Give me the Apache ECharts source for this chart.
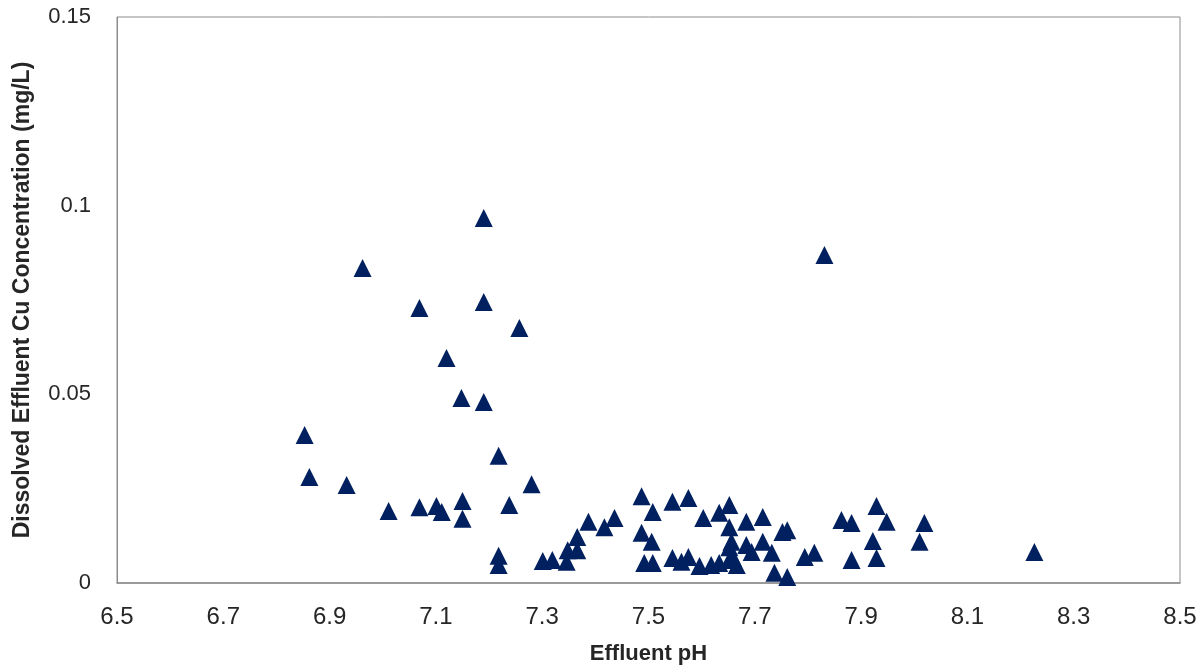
<!DOCTYPE html>
<html>
<head>
<meta charset="utf-8">
<script src="https://cdn.jsdelivr.net/npm/echarts@6/dist/echarts.min.js"></script>
<style>
html,body{margin:0;padding:0;background:#fff;}
#chart{width:1202px;height:672px;}
</style>
</head>
<body>
<div id="chart"></div>
<script>
const xAxisTitle = 'Effluent pH';
const yAxisTitle = 'Dissolved Effluent Cu Concentration (mg/L)';
const phValues = [6.853,6.862,6.932,6.962,7.011,7.069,7.069,7.101,7.111,7.120,7.148,7.150,7.150,7.190,7.190,7.190,7.218,7.218,7.218,7.257,7.238,7.280,7.301,7.319,7.346,7.348,7.366,7.366,7.387,7.417,7.436,7.487,7.487,7.508,7.506,7.492,7.508,7.545,7.575,7.545,7.562,7.575,7.596,7.603,7.618,7.633,7.633,7.652,7.652,7.652,7.652,7.684,7.715,7.752,7.761,7.656,7.658,7.666,7.684,7.694,7.715,7.732,7.737,7.761,7.794,7.812,7.831,7.863,7.882,7.929,7.948,7.922,7.882,7.929,8.019,8.010,8.226];
const cuValues = [0.0392,0.0281,0.0260,0.0835,0.0191,0.0729,0.0201,0.0204,0.0188,0.0596,0.0490,0.0217,0.0170,0.0967,0.0745,0.0480,0.0337,0.0072,0.0048,0.0676,0.0207,0.0262,0.0058,0.0061,0.0056,0.0087,0.0087,0.0122,0.0162,0.0148,0.0172,0.0230,0.0133,0.0188,0.0109,0.0053,0.0053,0.0215,0.0225,0.0066,0.0056,0.0069,0.0045,0.0172,0.0048,0.0186,0.0053,0.0207,0.0148,0.0095,0.0061,0.0162,0.0175,0.0135,0.0140,0.0109,0.0069,0.0048,0.0101,0.0082,0.0109,0.0080,0.0027,0.0016,0.0069,0.0080,0.0869,0.0167,0.0159,0.0204,0.0162,0.0111,0.0061,0.0066,0.0159,0.0109,0.0082];

const points = phValues.map((x, i) => [x, cuValues[i]]);

const chart = echarts.init(document.getElementById('chart'), null, {renderer: 'canvas'});
chart.setOption({
  animation: false,
  backgroundColor: '#ffffff',
  grid: {
    left: 117, right: 22, top: 17, bottom: 89,
    show: true, borderColor: '#8c8c8c', borderWidth: 1, backgroundColor: 'transparent'
  },
  xAxis: {
    type: 'value', min: 6.5, max: 8.5, interval: 0.2,
    name: xAxisTitle, nameLocation: 'middle', nameGap: 60,
    nameTextStyle: {fontFamily: 'Liberation Sans', fontWeight: 'bold', fontSize: 22, color: '#262626'},
    axisLine: {show: true, lineStyle: {color: '#8c8c8c', width: 1.5}},
    axisTick: {show: false},
    splitLine: {show: false},
    axisLabel: {
      margin: 22, fontFamily: 'Liberation Sans', fontSize: 24, color: '#262626',
      formatter: v => v.toFixed(1)
    }
  },
  yAxis: {
    type: 'value', min: 0, max: 0.15, interval: 0.05,
    name: yAxisTitle, nameLocation: 'middle', nameGap: 83, nameRotate: 90,
    nameTextStyle: {fontFamily: 'Liberation Sans', fontWeight: 'bold', fontSize: 23, color: '#262626'},
    axisLine: {show: true, lineStyle: {color: '#8c8c8c', width: 1}},
    axisTick: {show: false},
    splitLine: {show: false},
    axisLabel: {
      margin: 26, fontFamily: 'Liberation Sans', fontSize: 22, color: '#262626',
      formatter: v => String(+v.toFixed(2))
    }
  },
  series: [{
    type: 'scatter',
    data: points,
    symbol: 'triangle',
    symbolSize: 18,
    itemStyle: {color: '#002060', opacity: 1}
  }]
});
</script>
</body>
</html>
